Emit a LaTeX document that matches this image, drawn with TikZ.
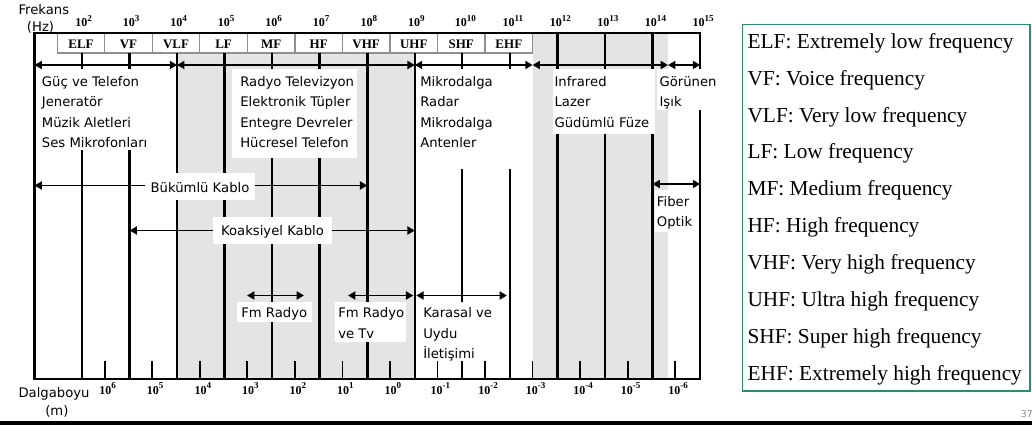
\documentclass[tikz,border=0pt]{standalone}
\usepackage{fontspec}
\setmainfont{Liberation Serif}
\newfontfamily\dv{DejaVu Sans}
\usetikzlibrary{arrows.meta}
\definecolor{bandshade}{HTML}{E4E4E4}
\definecolor{cellgray}{HTML}{8F8F8F}
\definecolor{legendgreen}{HTML}{2E8B67}
\definecolor{pagegray}{HTML}{8A8A8A}
\newcommand{\pw}[1]{10\raisebox{0.45em}{\fontsize{6.8}{7}\selectfont #1}}
\tikzset{
  frameline/.style={line width=1.9pt},
  decline/.style={line width=1.9pt},
  thinline/.style={line width=1.5pt},
  tickline/.style={line width=1.3pt},
  arr/.style={line width=1.4pt,{Triangle[length=5.5pt,width=6pt]}-{Triangle[length=5.5pt,width=6pt]}},
  sanstxt/.style={font=\dv\fontsize{9.9}{12}\selectfont,inner sep=0pt,anchor=base west},
  sansmid/.style={font=\dv\fontsize{9.9}{12}\selectfont,inner sep=0pt,anchor=base},
  freqlbl/.style={font=\bfseries\fontsize{9}{10}\selectfont,inner sep=0pt,anchor=base},
  bandlbl/.style={font=\bfseries\fontsize{9.75}{10}\selectfont,inner sep=0pt,anchor=base},
  legtxt/.style={font=\fontsize{16}{18}\selectfont,inner sep=0pt,anchor=base west},
  cell/.style={draw=cellgray,fill=white,line width=1pt},
  whitebox/.style={fill=white}
}
\begin{document}
\begin{tikzpicture}[x=0.75pt,y=-0.75pt]
\useasboundingbox (0,0) rectangle (1032,425);
\fill[white] (0,0) rectangle (1032,425);

% gray bands
\fill[fill=bandshade] (177.1,33) rectangle (414.8,379);
\fill[fill=bandshade] (532.6,33) rectangle (668,379);

% band cells
\foreach \lab [count=\i] in {ELF,VF,VLF,LF,MF,HF,VHF,UHF,SHF,EHF}{
  \pgfmathsetmacro\xa{57.2+(\i-1)*47.54}
  \pgfmathsetmacro\xb{\xa+47.54}
  \pgfmathsetmacro\xc{\xa+23.77}
  \draw[cell] (\xa,33) rectangle (\xb,53);
  \node[bandlbl] (band\i) at (\xc,48.3) {\lab};
}

% long decade lines
\foreach \n in {2,...,9}{
  \pgfmathsetmacro\xx{34.5+(\n-1)*47.54}
  \draw[decline] (\xx,53) -- (\xx,379);
}
\foreach \n in {10,11}{
  \pgfmathsetmacro\xx{34.5+(\n-1)*47.54}
  \draw[thinline] (\xx,53) -- (\xx,379);
}
\foreach \n in {12,13,14}{
  \pgfmathsetmacro\xx{34.5+(\n-1)*47.54}
  \draw[decline] (\xx,33) -- (\xx,379);
}
% wavelength ticks
\foreach \n in {2,...,14}{
  \pgfmathsetmacro\xx{34.5+(\n-1)*47.54+22.68}
  \draw[tickline] (\xx,361) -- (\xx,379);
}

% frame
\draw[frameline] (34.5,33) rectangle (700.1,379);

% arrow end points
\coordinate (t0) at (34.5,65);
\coordinate (t4) at (177.1,65);
\coordinate (t9) at (414.8,65);
\coordinate (t11) at (532.6,65);
\coordinate (t14) at (668,65);
\coordinate (t15) at (700.1,65);
\draw[arr] (t0) -- (t4);
\draw[arr] (t4) -- (t9);
\draw[arr] (t9) -- (t11);
\draw[arr] (t11) -- (t14);
\draw[arr] (t14) -- (t15);

\coordinate (bk1) at (34.5,185.5);
\coordinate (bk2) at (367.3,185.5);
\draw[arr] (bk1) -- (bk2);
\coordinate (kk1) at (129.6,230.5);
\coordinate (kk2) at (414.8,230.5);
\draw[arr] (kk1) -- (kk2);
\coordinate (fm1) at (247,295.5);
\coordinate (fm2) at (304,295.5);
\draw[arr] (fm1) -- (fm2);
\coordinate (ft1) at (348,295.5);
\coordinate (ft2) at (413.3,295.5);
\draw[arr] (ft1) -- (ft2);
\coordinate (ks1) at (416.3,295.5);
\coordinate (ks2) at (507,295.5);
\draw[arr] (ks1) -- (ks2);
\coordinate (fo1) at (652.5,184);
\coordinate (fo2) at (700.1,184);
\draw[arr] (fo1) -- (fo2);

% white text backgrounds
\fill[whitebox] (38,69) rectangle (160,150);
\fill[whitebox] (231.7,69) rectangle (356.7,158.3);
\fill[whitebox] (417,69) rectangle (530,169);
\fill[whitebox] (553.3,69) rectangle (655,134);
\fill[whitebox] (656.5,69) rectangle (722,110);
\fill[whitebox] (654.5,190) rectangle (698,232);
\fill[whitebox] (145,173) rectangle (255,199.5);
\fill[whitebox] (213,217) rectangle (332,244);
\fill[whitebox] (236.7,301.7) rectangle (311.7,321.7);
\fill[whitebox] (335,301.7) rectangle (406,341.7);
\fill[whitebox] (418,301.7) rectangle (496,361);

% texts
\node[sanstxt] (g1) at (41.7,86) {Güç ve Telefon};
\node[sanstxt] (g2) at (41.7,106.5) {Jeneratör};
\node[sanstxt] (g3) at (41.7,127) {Müzik Aletleri};
\node[sanstxt] (g4) at (41.7,147.5) {Ses Mikrofonları};

\node[sanstxt] (r1) at (240,86) {Radyo Televizyon};
\node[sanstxt] (r2) at (240,106.5) {Elektronik Tüpler};
\node[sanstxt] (r3) at (240,127) {Entegre Devreler};
\node[sanstxt] (r4) at (240,147.5) {Hücresel Telefon};

\node[sanstxt] (m1) at (420,86) {Mikrodalga};
\node[sanstxt] (m2) at (420,106.5) {Radar};
\node[sanstxt] (m3) at (420,127) {Mikrodalga};
\node[sanstxt] (m4) at (420,147.5) {Antenler};

\node[sanstxt] (i1) at (554.3,86) {Infrared};
\node[sanstxt] (i2) at (554.3,106.5) {Lazer};
\node[sanstxt] (i3) at (554.3,127) {Güdümlü Füze};

\node[sanstxt] (v1) at (659.3,86) {Görünen};
\node[sanstxt] (v2) at (659.3,106.5) {Işık};

\node[sanstxt] (fb1) at (656.7,206) {Fiber};
\node[sanstxt] (fb2) at (656.7,226) {Optik};

\node[sansmid] (bkl) at (200,192) {Bükümlü Kablo};
\node[sansmid] (kkl) at (272.5,235.7) {Koaksiyel Kablo};
\node[sansmid] (fml) at (274.2,317.3) {Fm Radyo};

\node[sanstxt] (ftl1) at (338,317.5) {Fm Radyo};
\node[sanstxt] (ftl2) at (338,338) {ve Tv};

\node[sanstxt] (ksl1) at (423,317.5) {Karasal ve};
\node[sanstxt] (ksl2) at (423,338) {Uydu};
\node[sanstxt] (ksl3) at (423,358.5) {İletişimi};

% axis titles
\node[sanstxt] (frek) at (18.3,14.3) {Frekans};
\node[sanstxt] (hz) at (26.7,31.7) {(Hz)};
\node[sanstxt] (dalga) at (18.3,397.7) {Dalgaboyu};
\node[sanstxt] (mm) at (45,415) {(m)};

% frequency labels
\foreach \n in {2,...,9}{
  \pgfmathsetmacro\xx{34.5+(\n-1)*47.54+1.5}
  \node[freqlbl] (f\n) at (\xx,26.7) {\pw{\n}};
}
\foreach \n in {10,...,15}{
  \pgfmathsetmacro\xx{34.5+(\n-1)*47.54+3}
  \node[freqlbl] (f\n) at (\xx,26.7) {\pw{\n}};
}
% wavelength labels
\foreach \n in {2,...,14}{
  \pgfmathsetmacro\xx{34.5+(\n-1)*47.54+22.68+3}
  \pgfmathtruncatemacro\ee{8-\n}
  \node[freqlbl] (w\n) at (\xx,394.3) {\pw{\ee}};
}

% legend
\draw[legendgreen,line width=1.1pt] (742.3,24.3) rectangle (1030,391);
\foreach \t [count=\k from 0] in {ELF: Extremely low frequency,VF: Voice frequency,VLF: Very low frequency,LF: Low frequency,MF: Medium frequency,HF: High frequency,VHF: Very high frequency,UHF: Ultra high frequency,SHF: Super high frequency,EHF: Extremely high frequency}{
  \pgfmathsetmacro\yy{48.3+\k*36.86}
  \node[legtxt] (leg\k) at (747.3,\yy) {\t};
}

% page number and bottom bar
\node[font=\dv\fontsize{7}{8}\selectfont,text=pagegray,inner sep=0pt,anchor=base east] (pnum) at (1033,417.5) {37};
\fill[black] (0,420.7) rectangle (1032,425);
\end{tikzpicture}
\end{document}
